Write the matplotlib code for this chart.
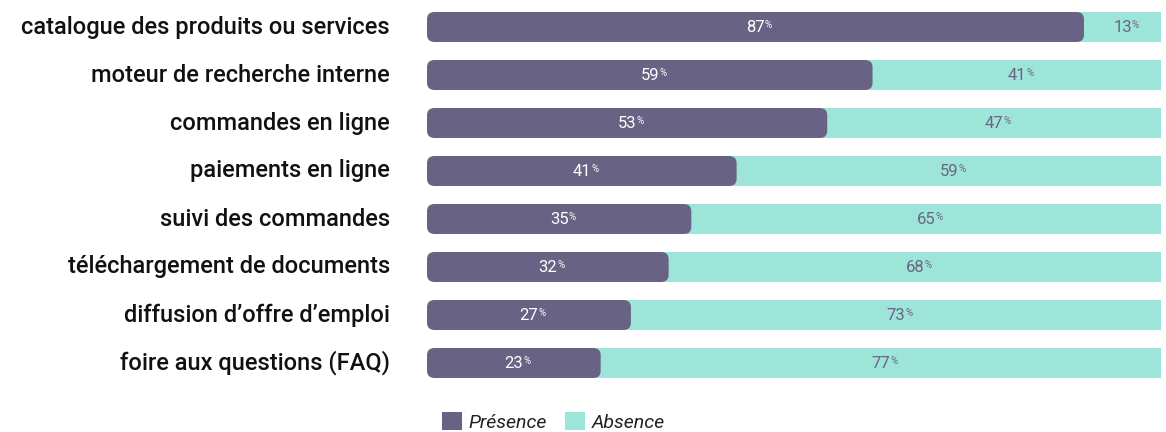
import matplotlib
matplotlib.use("Agg")
import matplotlib.pyplot as plt
from matplotlib.patches import FancyBboxPatch, Patch

# Data
categories = [
    "catalogue des produits ou services",
    "moteur de recherche interne",
    "commandes en ligne",
    "paiements en ligne",
    "suivi des commandes",
    "téléchargement de documents",
    "diffusion d\u2019offre d\u2019emploi",
    "foire aux questions (FAQ)",
]
presence = [87, 59, 53, 41, 35, 32, 27, 23]
absence = [13, 41, 47, 59, 65, 68, 73, 77]

PURPLE = "#686384"
TEAL = "#9de5d8"
LABEL_TEAL = "#6a6585"

plt.rcParams["font.family"] = ["Roboto", "DejaVu Sans"]

fig = plt.figure(figsize=(11.66, 4.32), dpi=100)
ax = fig.add_axes([427 / 1166, 45 / 432, 734 / 1166, 384 / 432])
# the teal band is cut a little before 100 in the original
x_max = 97.2
ax.set_xlim(0, x_max)
ax.set_ylim(len(categories) - 0.5, -0.5)
ax.axis("off")

bar_h = 0.625
radius = 1.0
aspect = 0.15

for i, (p, a) in enumerate(zip(presence, absence)):
    # teal background bar (square right end), purple rounded bar on top
    ax.barh(i, a + p / 2, left=p / 2, height=bar_h, color=TEAL, zorder=1)
    ax.add_patch(FancyBboxPatch((0, i - bar_h / 2), p, bar_h,
                                boxstyle=f"round,pad=0,rounding_size={radius}",
                                mutation_aspect=aspect,
                                facecolor=PURPLE, edgecolor="none", zorder=2))

    t1 = ax.text(p / 2, i, str(p), ha="center", va="center",
                 fontsize=12, color="white", zorder=3)
    ax.annotate("%", xy=(1, 0.95), xycoords=t1, ha="left", va="top",
                fontsize=7, color="white", zorder=3)
    t2 = ax.text((p + x_max) / 2, i, str(a), ha="center", va="center",
                 fontsize=12, color=LABEL_TEAL, zorder=3)
    ax.annotate("%", xy=(1, 0.95), xycoords=t2, ha="left", va="top",
                fontsize=7, color=LABEL_TEAL, zorder=3)

    ax.annotate(categories[i], xy=(0, i), xycoords="data",
                xytext=(-37, 0), textcoords="offset pixels",
                ha="right", va="center", fontsize=17, fontweight="medium",
                color="#111111")

handles = [Patch(facecolor=PURPLE, edgecolor="none", label="Présence"),
           Patch(facecolor=TEAL, edgecolor="none", label="Absence")]
fig.legend(handles=handles, loc="lower left", bbox_to_anchor=(424 / 1166, -17 / 432),
           ncol=2, frameon=False,
           prop={"style": "italic", "size": 14},
           handlelength=1.05, handleheight=1.05, handletextpad=0.35,
           columnspacing=0.9, labelcolor="#222222")

fig.savefig("out.png", dpi=100)
